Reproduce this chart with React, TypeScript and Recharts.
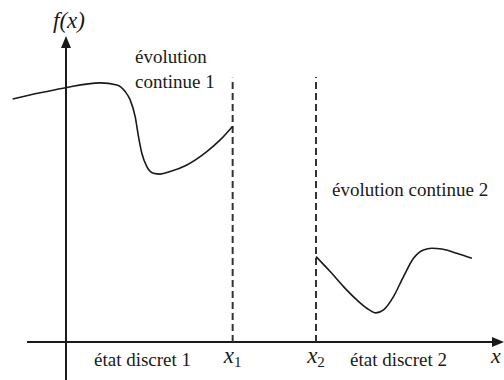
import React from 'react';
import { ComposedChart, Line, XAxis, YAxis, ReferenceLine, ReferenceDot } from 'recharts';

// continuous evolution 1 (x in units where x1 = 4, x2 = 6)
const curve1X = [-1.28, -0.62, -0.07, 0.82, 1.22, 1.42, 1.54, 1.66, 1.74, 1.82, 1.94, 2.1, 2.26, 2.5, 2.9, 3.38, 3.7, 4.0];
const curve1Y = [5.83, 5.98, 6.09, 6.22, 6.17, 6.01, 5.81, 5.41, 4.93, 4.53, 4.21, 4.05, 4.03, 4.09, 4.25, 4.57, 4.85, 5.18];
// continuous evolution 2
const curve2X = [6.0, 6.34, 6.66, 6.98, 7.22, 7.44, 7.62, 7.86, 8.1, 8.34, 8.58, 8.78, 9.02, 9.38, 9.74];
const curve2Y = [2.05, 1.69, 1.33, 1.01, 0.81, 0.7, 0.77, 1.09, 1.57, 2.01, 2.21, 2.25, 2.23, 2.13, 2.01];
// switching points
const switchX = [4, 6];
const switchTop = [6.34, 6.36];
const switchLabels = ['1', '2'];

const data1 = curve1X.map((x, i) => ({ x, y: curve1Y[i] }));
const data2 = curve2X.map((x, i) => ({ x, y: curve2Y[i] }));

const INK = '#1a1a1a';
const SERIF = "'Liberation Serif', 'Times New Roman', serif";
const CSS = `
svg text.serif-lbl, svg text.serif-lbl tspan { font-family: 'Liberation Serif', 'Times New Roman', serif !important; }
svg text.serif-it, svg tspan.serif-it { font-style: italic !important; }
`;

const textShape = (text: React.ReactNode, size: number, anchor: 'start' | 'middle' | 'end' = 'start', italic = false) =>
  (p: any) => (
    <text x={p.cx} y={p.cy} className={italic ? 'serif-lbl serif-it' : 'serif-lbl'} fontFamily={SERIF} fontStyle={italic ? 'italic' : 'normal'} fontSize={size} fill={INK} textAnchor={anchor}>
      {text}
    </text>
  );

const arrowRight = (p: any) => (
  <polygon points={`${p.cx},${p.cy} ${p.cx - 12},${p.cy - 5} ${p.cx - 12},${p.cy + 5}`} fill={INK} />
);
const arrowUp = (p: any) => (
  <polygon points={`${p.cx},${p.cy} ${p.cx - 5},${p.cy + 12} ${p.cx + 5},${p.cy + 12}`} fill={INK} />
);

const subLabel = (idx: number) => (p: any) => (
  <text x={p.cx} y={p.cy} className="serif-lbl" fontFamily={SERIF} fontSize={23} fill={INK} textAnchor="middle">
    <tspan className="serif-it" fontStyle="italic">x</tspan>
    <tspan fontSize={15} dy={4}>{switchLabels[idx]}</tspan>
  </text>
);

const noDot = () => <g />;

export default function App() {
  return (
    <div style={{ position: 'absolute', left: 0, top: 0, background: '#fff' }}>
      <style>{CSS}</style>
      <ComposedChart width={504} height={380} margin={{ top: 0, right: 0, bottom: 0, left: 0 }}>
        <XAxis type="number" dataKey="x" domain={[-1.584, 10.512]} hide allowDataOverflow />
        <YAxis type="number" dataKey="y" domain={[-0.912, 8.208]} hide allowDataOverflow />
        {/* axes */}
        <ReferenceLine segment={[{ x: -0.936, y: 0 }, { x: 10.3, y: 0 }]} stroke={INK} strokeWidth={2} />
        <ReferenceLine segment={[{ x: 0, y: -0.912 }, { x: 0, y: 7.1 }]} stroke={INK} strokeWidth={2} />
        <ReferenceDot x={10.512} y={0} r={0} shape={arrowRight} />
        <ReferenceDot x={0} y={7.344} r={0} shape={arrowUp} />
        {/* switching boundaries */}
        {switchX.map((sx, i) => (
          <ReferenceLine key={i} segment={[{ x: sx, y: 0 }, { x: sx, y: switchTop[i] }]} stroke="#333" strokeWidth={2} strokeDasharray="7 4" />
        ))}
        <Line data={data1} dataKey="y" type="monotone" stroke={INK} strokeWidth={1.6} dot={noDot} activeDot={false} isAnimationActive={false} />
        <Line data={data2} dataKey="y" type="monotone" stroke={INK} strokeWidth={1.6} dot={noDot} activeDot={false} isAnimationActive={false} />
        {/* texts */}
        <ReferenceDot x={-0.312} y={7.536} r={0} shape={textShape('f(x)', 23, 'start', true)} />
        <ReferenceDot x={1.656} y={6.696} r={0} shape={textShape('évolution', 19)} />
        <ReferenceDot x={1.656} y={6.096} r={0} shape={textShape('continue 1', 19)} />
        <ReferenceDot x={6.384} y={3.504} r={0} shape={textShape('évolution continue 2', 19)} />
        <ReferenceDot x={0.672} y={-0.576} r={0} shape={textShape('état discret 1', 19)} />
        <ReferenceDot x={6.816} y={-0.576} r={0} shape={textShape('état discret 2', 19)} />
        {switchX.map((sx, i) => (
          <ReferenceDot key={'l' + i} x={sx} y={-0.504} r={0} shape={subLabel(i)} />
        ))}
        <ReferenceDot x={10.2} y={-0.504} r={0} shape={textShape('x', 22, 'start', true)} />
      </ComposedChart>
    </div>
  );
}
